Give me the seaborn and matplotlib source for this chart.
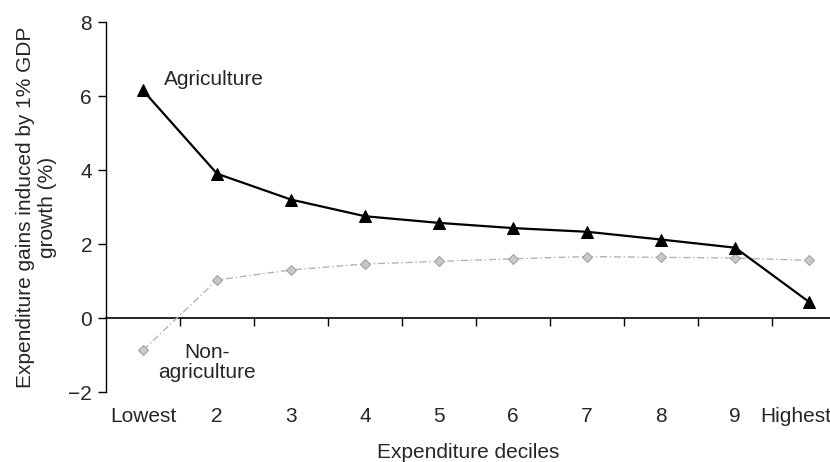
import pandas as pd
import numpy as np
import matplotlib
matplotlib.use("Agg")
import matplotlib.pyplot as plt
import matplotlib.transforms as mtransforms
import seaborn as sns

# ===================== 数据 =====================
deciles = ["Lowest", "2", "3", "4", "5", "6", "7", "8", "9", "Highest"]
agriculture = [6.15, 3.9, 3.2, 2.75, 2.57, 2.43, 2.33, 2.12, 1.9, 0.43]
non_agriculture = [-0.87, 1.03, 1.3, 1.46, 1.53, 1.6, 1.66, 1.64, 1.62, 1.56]
y_ticks = [-2, 0, 2, 4, 6, 8]

pos = np.arange(len(deciles))
df = pd.DataFrame({
    "pos": np.concatenate([pos, pos]),
    "value": agriculture + non_agriculture,
    "sector": ["Agriculture"] * len(pos) + ["Non-agriculture"] * len(pos),
})

sns.set_theme(style="white")
plt.rcParams["font.family"] = ["Liberation Sans", "DejaVu Sans"]
FS = 15

fig = plt.figure(figsize=(8.3, 4.62), dpi=100)
ax = fig.add_axes([106 / 830, 1 - 392 / 462, 724 / 830, 370 / 462])

# 非农业：浅灰点划线 + 菱形
sns.lineplot(data=df[df["sector"] == "Non-agriculture"], x="pos", y="value", ax=ax,
             color="#b4b4b4", linewidth=1.0, linestyle=(0, (5, 2, 1, 2)),
             marker="D", markersize=5, markeredgecolor="#a0a0a0", markerfacecolor="#c8c8c8")
# 农业：黑色实线 + 三角
sns.lineplot(data=df[df["sector"] == "Agriculture"], x="pos", y="value", ax=ax,
             color="black", linewidth=1.6, marker="^", markersize=9,
             markeredgecolor="black", markerfacecolor="black")

ax.set_xlim(-0.5, 9.28)
ax.set_ylim(-2, 8)
ax.set_yticks(y_ticks)
ax.set_yticklabels(["\u22122", "0", "2", "4", "6", "8"], fontsize=FS)
ax.tick_params(axis="y", direction="out", length=6, width=1, color="black", left=True, pad=4)

for s in ["top", "right", "bottom"]:
    ax.spines[s].set_visible(False)
ax.spines["left"].set_color("black")
ax.spines["left"].set_linewidth(1)

# 类别标签放在底部
ax.set_xticks(pos)
ax.set_xticklabels(deciles, fontsize=FS)
ax.tick_params(axis="x", length=0, pad=11)
# "Highest" 稍微左移，避免被裁掉
last = ax.get_xticklabels()[-1]
last.set_transform(last.get_transform() + mtransforms.ScaledTranslation(-10 / 72, 0, fig.dpi_scale_trans))

# y=0 处的横轴（刻度在类别分界处）
sec = ax.secondary_xaxis(0.2)
sec.set_xticks(np.arange(0.5, 9.5, 1))
sec.set_xticklabels([])
sec.tick_params(direction="out", length=6, width=1, color="black")
sec.spines["bottom"].set_color("black")
sec.spines["bottom"].set_linewidth(1.2)

ax.set_xlabel("Expenditure deciles", fontsize=FS, labelpad=12)
ax.set_ylabel("Expenditure gains induced by 1% GDP\ngrowth (%)", fontsize=FS, labelpad=8)

ax.text(0.28, 6.45, "Agriculture", fontsize=FS, ha="left", va="center")
ax.text(0.86, -1.2, "Non-\nagriculture", fontsize=FS, ha="center", va="center",
        multialignment="center", linespacing=1.1)

ax.grid(False)
fig.savefig("out.png", dpi=100)
